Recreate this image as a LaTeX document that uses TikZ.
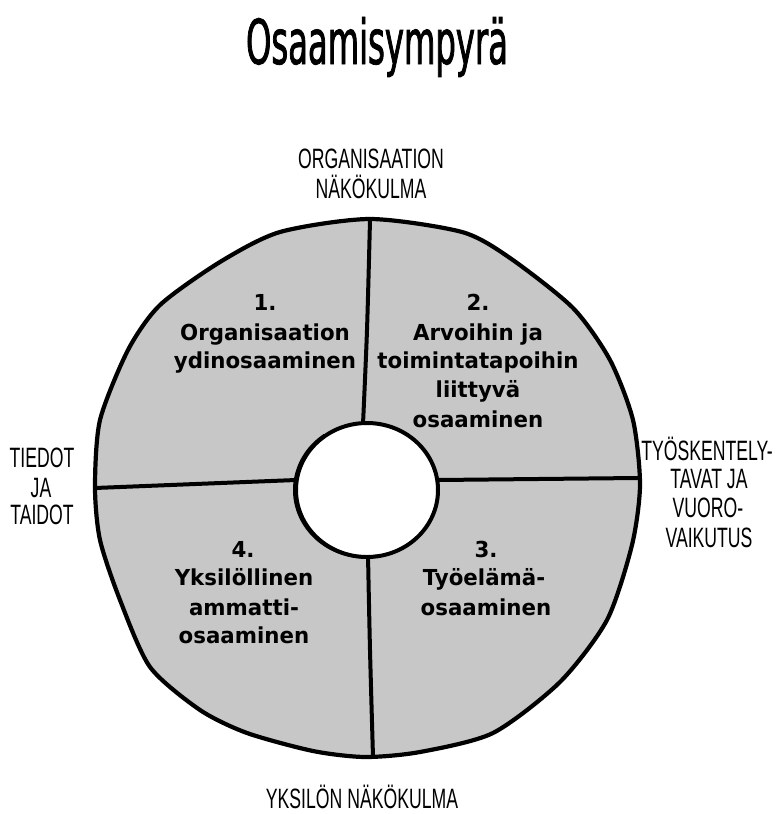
\documentclass[tikz,border=0pt]{standalone}
\usepackage{fontspec}
\newfontfamily\titlefont[FakeStretch=0.52, FakeBold=1.2]{DejaVu Sans}
\newfontfamily\labelfont[FakeStretch=0.63]{Liberation Sans}
\newfontfamily\bodyfont[FakeStretch=0.97]{DejaVu Sans}
\definecolor{diskgray}{RGB}{199,199,199}
\begin{document}
\begin{tikzpicture}[x=1pt,y=-1pt,
  titletext/.style={font=\titlefont\fontsize{62}{62}\selectfont, inner sep=0, anchor=base},
  labeltext/.style={font=\labelfont\fontsize{28}{28}\selectfont, inner sep=0, anchor=base},
  bodytext/.style={font=\bodyfont\bfseries\fontsize{22}{22}\selectfont, inner sep=0, anchor=base},
  outline/.style={line width=4.2pt, line join=round, line cap=round},
  divider/.style={line width=4pt, line cap=round},
]
\useasboundingbox (0,0) rectangle (776,814);

\def\diskpath{plot[smooth cycle, tension=0.45] coordinates {
 (370,219) (462,232) (510,258) (573,308) (610,360) (633,420) (640,485) (632,545)
 (607,620) (560,682) (493,733) (420,752) (365,757) (313,751) (247,733) (200,710)
 (150,667) (120,600) (100,540) (95,487) (100,420) (128,350) (160,305) (220,262)
 (280,232)}}

% title
\node[titletext] (title) at (377,64) {Osaamisympyrä};

% disk fill
\fill[diskgray] \diskpath;

% dividers
\coordinate (ic) at (367,490);
\draw[divider] plot[smooth] coordinates {(370,220) (367,330) (363,424)};
\draw[divider] plot[smooth] coordinates {(368,555) (370,650) (373,757)};
\draw[divider] (95,488) -- (296,480);
\draw[divider] (438,480) -- (638,478);

% inner circle
\filldraw[fill=white, line width=4pt] (ic) ellipse [x radius=71, y radius=67];
\draw[line width=3pt] ([xshift=-1.5pt]ic) ++(235:71 and 67) arc[start angle=235, end angle=80, x radius=71, y radius=67];

% outline stroke
\draw[outline] \diskpath;

% outer labels
\node[labeltext] (orgA) at (371,168) {ORGANISAATION};
\node[labeltext] (orgB) at (371,198) {NÄKÖKULMA};
\node[labeltext] (tiA) at (42,467) {TIEDOT};
\node[labeltext] (tiB) at (41,497) {JA};
\node[labeltext] (tiC) at (42,524) {TAIDOT};
\node[labeltext] (tyA) at (707,460) {TYÖSKENTELY-};
\node[labeltext] (tyB) at (709,488) {TAVAT JA};
\node[labeltext] (tyC) at (708,517) {VUORO-};
\node[labeltext] (tyD) at (709,547) {VAIKUTUS};
\node[labeltext] (yks) at (362,808) {YKSILÖN NÄKÖKULMA};

% sector texts
\node[bodytext] (s1a) at (265,310) {1.};
\node[bodytext] (s1b) at (265,340) {Organisaation};
\node[bodytext] (s1c) at (265,368) {ydinosaaminen};

\node[bodytext] (s2a) at (478,310) {2.};
\node[bodytext] (s2b) at (478,340) {Arvoihin ja};
\node[bodytext] (s2c) at (478,368) {toimintatapoihin};
\node[bodytext] (s2d) at (478,397) {liittyvä};
\node[bodytext] (s2e) at (478,427) {osaaminen};

\node[bodytext] (s3a) at (486,557) {3.};
\node[bodytext] (s3b) at (484,585) {Työelämä-};
\node[bodytext] (s3c) at (486,615) {osaaminen};

\node[bodytext] (s4a) at (243,557) {4.};
\node[bodytext] (s4b) at (244,585) {Yksilöllinen};
\node[bodytext] (s4c) at (244,615) {ammatti-};
\node[bodytext] (s4d) at (244,643) {osaaminen};
\end{tikzpicture}
\end{document}
